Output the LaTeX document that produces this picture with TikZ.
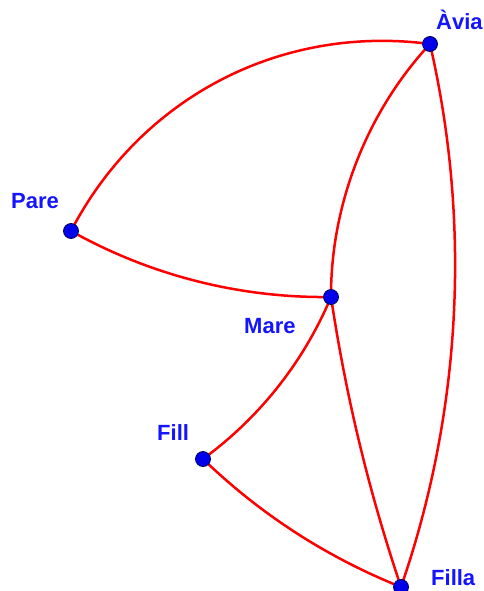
\documentclass[tikz,border=0pt]{standalone}
\usepackage{fontspec}
\setmainfont{Liberation Sans}
\usetikzlibrary{backgrounds}
\definecolor{ptfill}{RGB}{0,0,235}
\definecolor{ptline}{RGB}{0,0,90}
\definecolor{labblue}{RGB}{20,20,255}
\definecolor{arcred}{RGB}{255,0,0}
\begin{document}
\begin{tikzpicture}[x=1pt,y=-1pt,
  pt/.style={circle,fill=ptfill,draw=ptline,line width=0.8pt,inner sep=0pt,minimum size=15pt},
  lab/.style={anchor=base west,text=labblue,font=\fontsize{22}{24}\selectfont\bfseries,inner sep=0pt},
  arc/.style={draw=arcred,line width=2.5pt,looseness=0.87}]
\path[use as bounding box] (0,0) rectangle (484,591);
\node[pt] (avia) at (430,44) {};
\node[pt] (pare) at (71,231) {};
\node[pt] (mare) at (331,297) {};
\node[pt] (fill) at (203,459) {};
\node[pt] (filla) at (401,587) {};
\node[lab] (lavia) at (436,30) {Àvia};
\node[lab] (lpare) at (11,208) {Pare};
\node[lab] (lmare) at (244,333) {Mare};
\node[lab] (lfill) at (157,440) {Fill};
\node[lab] (lfilla) at (431,585) {Filla};
\begin{scope}[on background layer]
\draw[arc] (pare.center) to[bend left=35, looseness=0.95] (avia.center);
\draw[arc] (pare.center) to[bend right=15] (mare.center);
\draw[arc] (mare.center) to[bend left=21.6] (avia.center);
\draw[arc] (avia.center) to[bend left=16] (filla.center);
\draw[arc] (mare.center) to[bend left=15.5] (fill.center);
\draw[arc] (mare.center) to[bend right=5] (filla.center);
\draw[arc] (fill.center) to[bend right=11] (filla.center);
\end{scope}
\end{tikzpicture}
\end{document}
